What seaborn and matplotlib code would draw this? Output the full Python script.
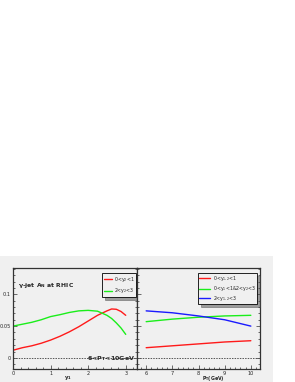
import pandas as pd
import matplotlib
matplotlib.use("Agg")
import matplotlib.pyplot as plt
import seaborn as sns
from matplotlib.patches import Rectangle
from matplotlib.ticker import MultipleLocator

# data
y1 = [0, 0.25, 0.5, 0.75, 1.0, 1.25, 1.5, 1.75, 2.0, 2.25, 2.5, 2.625, 2.75, 2.875, 3.0]
an_y2_01 = [0.012, 0.016, 0.019, 0.023, 0.028, 0.034, 0.041, 0.049, 0.058, 0.067, 0.074, 0.077, 0.0765, 0.073, 0.067]
an_y2_23 = [0.050, 0.053, 0.056, 0.060, 0.065, 0.068, 0.0715, 0.074, 0.0748, 0.0735, 0.067, 0.062, 0.055, 0.047, 0.037]

pt = [6, 7, 8, 9, 10]
an_y12_01 = [0.016, 0.019, 0.022, 0.025, 0.027]
an_mixed = [0.057, 0.061, 0.064, 0.066, 0.067]
an_y12_23 = [0.074, 0.071, 0.066, 0.060, 0.050]

left_labels = [r"0<y$_2$<1", r"2<y$_2$<3"]
right_labels = [r"0<y$_{1,2}$<1", r"0<y$_1$<1&2<y$_2$<3", r"2<y$_{1,2}$<3"]
left_colors = ["#ff1a1a", "#1aee1a"]
right_colors = ["#ff1a1a", "#1aee1a", "#1a1aff"]

df_left = pd.DataFrame({
    "y1": y1 * 2,
    "AN": an_y2_01 + an_y2_23,
    "bin": [left_labels[0]] * len(y1) + [left_labels[1]] * len(y1),
})
df_right = pd.DataFrame({
    "pt": pt * 3,
    "AN": an_y12_01 + an_mixed + an_y12_23,
    "bin": sum([[lab] * len(pt) for lab in right_labels], []),
})

sns.set_style("ticks")
plt.rcParams["font.family"] = ["DejaVu Sans"]
plt.rcParams["mathtext.default"] = "regular"

bg = "#f0f0f0"
fig = plt.figure(figsize=(2.95, 3.82), dpi=100)
fig.patch.set_facecolor("white")
fig.add_artist(Rectangle((0, 0), 273 / 295, 126 / 382, transform=fig.transFigure,
                         facecolor=bg, edgecolor="none", zorder=0))

ax1 = fig.add_axes([13 / 295, 12.7 / 382, 124 / 295, 101.3 / 382])
ax2 = fig.add_axes([137 / 295, 12.7 / 382, 123 / 295, 101.3 / 382])

sns.lineplot(data=df_left, x="y1", y="AN", hue="bin", palette=left_colors,
             linewidth=1.0, ax=ax1, legend=False)
sns.lineplot(data=df_right, x="pt", y="AN", hue="bin", palette=right_colors,
             linewidth=1.0, ax=ax2, legend=False)

for ax in (ax1, ax2):
    ax.set_facecolor(bg)
    ax.set_ylim(-0.018, 0.1415)
    ax.axhline(0, color="#555555", lw=0.7, ls=(0, (1.5, 1.2)))
    ax.yaxis.set_major_locator(MultipleLocator(0.05))
    ax.yaxis.set_minor_locator(MultipleLocator(0.01))
    ax.xaxis.set_minor_locator(MultipleLocator(0.2))
    ax.tick_params(which="both", direction="in", labelsize=3.6, pad=1.5,
                   width=0.5, left=True, right=True, color="#333333")
    ax.tick_params(which="major", length=3)
    ax.tick_params(which="minor", length=1.5)
    for s in ax.spines.values():
        s.set_color("#333333")
        s.set_linewidth(0.9)
    ax.set_xlabel("")
    ax.set_ylabel("")

ax1.set_xlim(0, 3.3)
ax1.xaxis.set_major_locator(MultipleLocator(1))
ax1.set_yticks([0, 0.05, 0.1])
ax1.set_yticklabels(["0", "0.05", "0.1"])
ax2.set_xlim(5.65, 10.35)
ax2.xaxis.set_major_locator(MultipleLocator(1))
ax2.tick_params(labelleft=False)

# axis titles (ROOT style, sitting among the tick labels)
fig.text(68 / 295, 4.5 / 382, r"y$_1$", fontsize=3.8, fontweight="bold", ha="center", va="center")
fig.text(201.5 / 295, 3.5 / 382, r"P$_T$(GeV)", fontsize=3.4, fontweight="bold", ha="left", va="center")

ax1.text(0.04, 0.83, r"$\gamma$-jet A$_N$ at RHIC", transform=ax1.transAxes,
         fontsize=4.4, fontweight="bold", ha="left", va="center")
ax1.text(0.985, 0.11, r"6<P$_T$<10GeV", transform=ax1.transAxes,
         fontsize=4.6, fontweight="bold", ha="right", va="center")

h1 = ax1.get_lines()[:2]
leg1 = ax1.legend(h1, left_labels, loc="upper left", frameon=True, fontsize=3.4,
                  bbox_to_anchor=(102 / 295, 1 - 273 / 382), bbox_transform=fig.transFigure,
                  fancybox=False, shadow=True, edgecolor="black", facecolor=bg,
                  handlelength=1.8, handletextpad=0.4, borderpad=0.35, labelspacing=0.6,
                  borderaxespad=0)
leg1.get_frame().set_linewidth(0.6)
leg1.get_frame().set_alpha(1)

h2 = ax2.get_lines()[:3]
leg2 = ax2.legend(h2, right_labels, loc="upper left", frameon=True, fontsize=3.4,
                  bbox_to_anchor=(198 / 295, 1 - 273 / 382), bbox_transform=fig.transFigure,
                  fancybox=False, shadow=True, edgecolor="black", facecolor=bg,
                  handlelength=2.2, handletextpad=0.6, borderpad=0.3, labelspacing=0.3,
                  borderaxespad=0)
leg2.get_frame().set_linewidth(0.6)
leg2.get_frame().set_alpha(1)

fig.savefig("out.png", dpi=100)
